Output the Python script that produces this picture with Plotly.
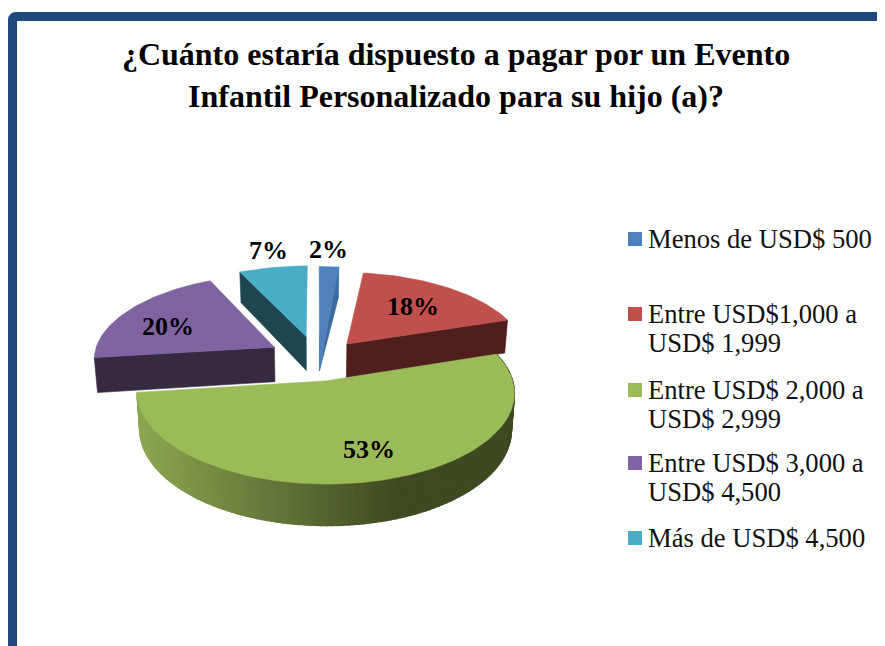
import math
import plotly.graph_objects as go

categories = ["Menos de USD$ 500", "Entre USD$1,000 a USD$ 1,999", "Entre USD$ 2,000 a USD$ 2,999",
              "Entre USD$ 3,000 a USD$ 4,500", "Más de USD$ 4,500"]
legend_lines = [["Menos de USD$ 500"], ["Entre USD$1,000 a", "USD$ 1,999"], ["Entre USD$ 2,000 a", "USD$ 2,999"],
                ["Entre USD$ 3,000 a", "USD$ 4,500"], ["Más de USD$ 4,500"]]
values = [2, 18, 53, 20, 7]
top_colors = ["#4f81bd", "#c0504d", "#9bbb59", "#8064a2", "#4bacc6"]
wall_colors = ["#3b6a9c", "#4f1f1e", "#3e4a22", "#352a40", "#1f4650"]
label_x = [328, 413, 369, 168, 268]
label_y = [249, 306, 449, 326, 250]
legend_y = [239, 314, 390, 463, 538]
wedge_dy = [1, 3, 0, 0, 0]
wedge_dx = [0, 0, -2, 0, 0]

CX, CY, A, B, K, EXPLODE, DEPTH = 316.5, 358, 181, 84.2, 0.1235, 0.27, 35
FONT = "Liberation Serif"
PAGE_MARGIN = 8   # the page body offsets the figure by this many pixels
W, H = 885 - PAGE_MARGIN, 646 - PAGE_MARGIN


def project(X, Y, z=0.0, nudge=(0, 0)):
    s = 1 / (1 + K * Y)
    xs = A * X * s * (1 - 0.015 * z)
    return CX + xs + nudge[0], CY - B * Y * s + DEPTH * s * z + nudge[1]


def wedge(start, end):
    mid = math.radians((start + end) / 2)
    ox, oy = EXPLODE * math.sin(mid), EXPLODE * math.cos(mid)
    n = max(3, int((end - start) / 1.5))
    rim = []
    for i in range(n + 1):
        t = math.radians(start + (end - start) * i / n)
        rim.append((ox + math.sin(t), oy + math.cos(t)))
    return (ox, oy), rim


def poly(fig, pts, color, width=0.6):
    xs = [p[0] for p in pts] + [pts[0][0]]
    ys = [p[1] for p in pts] + [pts[0][1]]
    fig.add_trace(go.Scatter(x=xs, y=ys, mode="lines", fill="toself", fillcolor=color,
                             line=dict(color=color, width=width), hoverinfo="skip",
                             showlegend=False))


fig = go.Figure()

total = sum(values)
angles = [0]
for v in values:
    angles.append(angles[-1] + 360 * v / total)
wedges = [wedge(angles[i], angles[i + 1]) for i in range(len(values))]

for i in [0, 4, 1, 3, 2]:
    apex, rim = wedges[i]
    nudge = (wedge_dx[i], wedge_dy[i])
    ap0, ap1 = project(*apex, 0, nudge), project(*apex, 1, nudge)
    if i in (0, 1):      # cut face on the clockwise end
        e = rim[-1]
        poly(fig, [ap0, project(*e, 0, nudge), project(*e, 1, nudge), ap1], wall_colors[i])
    if i in (3, 4):      # cut face on the counter-clockwise end
        e = rim[0]
        poly(fig, [ap0, project(*e, 0, nudge), project(*e, 1, nudge), ap1], wall_colors[i])
    if i == 2:           # curved outer wall with a left-to-right shading
        light, dark = (140, 166, 80), (62, 74, 34)
        for j in range(len(rim) - 1):
            p, q = rim[j], rim[j + 1]
            pp = project(*p, 0, nudge)
            f = min(1, max(0, (pp[0] - 140) / 260))
            c = tuple(round(light[k] + (dark[k] - light[k]) * f) for k in range(3))
            poly(fig, [project(*p, 0, nudge), project(*q, 0, nudge), project(*q, 1, nudge), project(*p, 1, nudge)],
                 "rgb(%d,%d,%d)" % c, width=1.5)
    pts = [ap0] + [project(*r, 0, nudge) for r in rim]
    poly(fig, pts, top_colors[i])
    if i == 0:
        e = rim[-1]
        poly(fig, [ap0, project(*e, 0, nudge), ap1], top_colors[i])

annotations = [dict(x=x, y=y, text="<b>%d%%</b>" % v, showarrow=False, xref="x", yref="y",
                    font=dict(family=FONT, size=26, color="black"))
               for x, y, v in zip(label_x, label_y, values)]

for name, col, ly, lines in zip(categories, top_colors, legend_y, legend_lines):
    fig.add_trace(go.Scatter(x=[635], y=[ly], mode="markers", name=name, showlegend=False,
                             marker=dict(symbol="square", size=14, color=col, line=dict(width=0))))
    for n, line in enumerate(lines):
        annotations.append(dict(x=646, y=ly - 0.5 + n * 29.5, text=line, showarrow=False, xanchor="left",
                                xref="x", yref="y", font=dict(family=FONT, size=26.6, color="#111111")))

shapes = [dict(type="path", path="M 12.5 646 L 12.5 20 Q 12.5 16.5 16 16.5 L 885 16.5",
               line=dict(color="#1f497d", width=9), xref="x", yref="y")]

fig.update_layout(
    width=W, height=H, autosize=False,
    margin=dict(l=0, r=0, t=0, b=0),
    paper_bgcolor="white", plot_bgcolor="white",
    xaxis=dict(range=[PAGE_MARGIN, 885], visible=False, fixedrange=True),
    yaxis=dict(range=[646, PAGE_MARGIN], visible=False, fixedrange=True),
    title=dict(text="<b>¿Cuánto estaría dispuesto a pagar por un Evento<br>Infantil Personalizado para su hijo (a)?</b>",
               x=448 / W, xanchor="center", y=1 - 57 / H, yanchor="middle",
               font=dict(family=FONT, size=32, color="black")),
    showlegend=False,
    annotations=annotations, shapes=shapes,
)
fig.write_html("out.html")
